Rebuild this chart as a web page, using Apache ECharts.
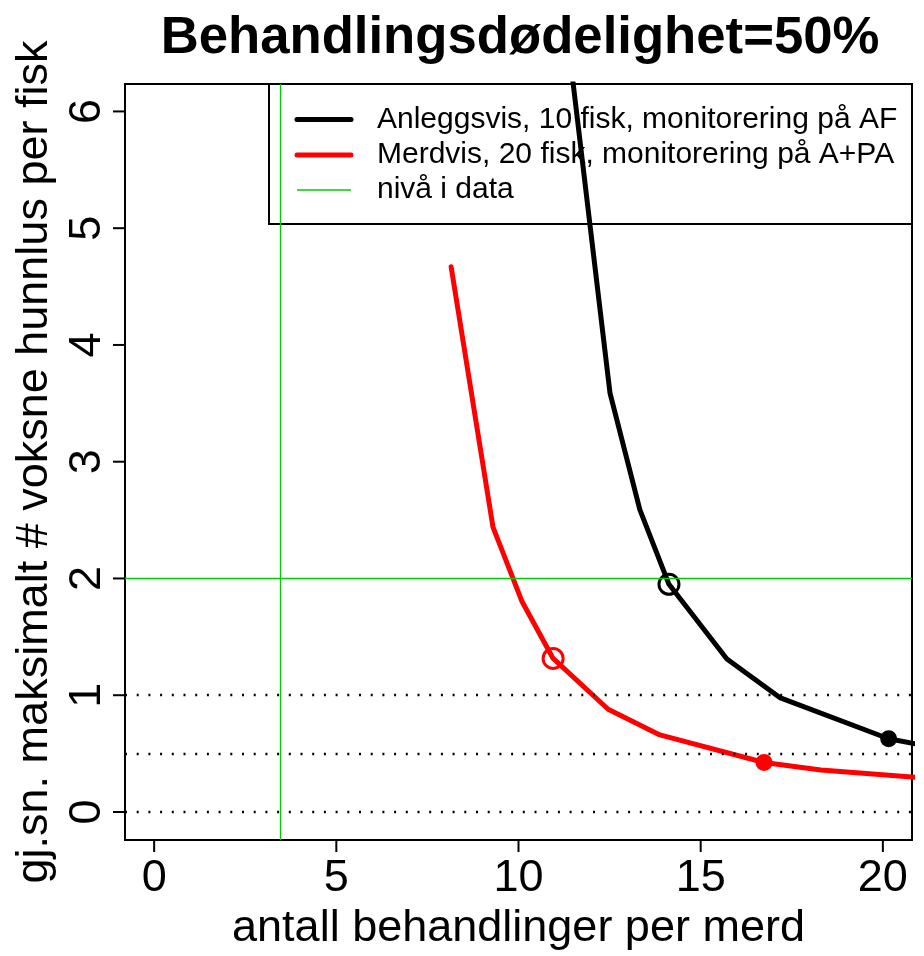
<!DOCTYPE html>
<html>
<head>
<meta charset="utf-8">
<script src="https://cdn.jsdelivr.net/npm/echarts@6/dist/echarts.min.js"></script>
<style>html,body{margin:0;padding:0;background:#fff}#c{width:924px;height:956px;background:#fff}</style>
</head>
<body>
<div id="c"></div>
<script>
// ---- data ----
const xBlack = [11.21, 12.51, 13.33, 14.13, 15.72, 17.17, 20.16, 22.0];
const yBlack = [7.0, 3.59, 2.59, 1.95, 1.31, 0.98, 0.627, 0.52];
const xRed = [8.15, 9.30, 10.10, 10.95, 12.46, 13.88, 16.74, 18.3, 22.0];
const yRed = [4.67, 2.44, 1.80, 1.315, 0.88, 0.66, 0.424, 0.36, 0.27];
const openMarkBlack = [14.13, 1.95];
const openMarkRed = [10.95, 1.315];
const fillMarkBlack = [20.16, 0.627];
const fillMarkRed = [16.74, 0.424];
const levelX = 3.46;
const levelY = 2;
const refLevels = [0, 0.5, 1];
const xTicks = [0, 5, 10, 15, 20];
const yTicks = [0, 1, 2, 3, 4, 5, 6];
const xRange = [-0.8, 20.8];
const yRange = [-0.24, 6.235];
const seriesNames = ['Anleggsvis, 10 fisk, monitorering på AF', 'Merdvis, 20 fisk, monitorering på A+PA', 'nivå i data'];
const titleText = 'Behandlingsdødelighet=50%';
const xName = 'antall behandlinger per merd';
const yName = 'gj.sn. maksimalt # voksne hunnlus per fisk';

const zip = (xs, ys) => xs.map((x, i) => [x, ys[i]]);
const FONT = 'Liberation Sans';
const GREEN = '#00cd00';
const RED = '#ff0000';
const TICK = 12;

// legend drawn as graphic (box without fill, under the series, as in the reference)
const legendColors = ['#000', RED, GREEN];
const legendWidths = [5, 5, 1.3];
const legendRowsY = [119.5, 155, 190];
const legendEls = [{
  type: 'rect', z: 1, silent: true,
  shape: {x: 269, y: 84, width: 643, height: 140},
  style: {fill: 'none', stroke: '#000', lineWidth: 2}
}];
seriesNames.forEach((n, i) => {
  legendEls.push({
    type: 'line', z: 1, silent: true,
    shape: {x1: 297, y1: legendRowsY[i], x2: 351, y2: legendRowsY[i]},
    style: {stroke: legendColors[i], lineWidth: legendWidths[i], lineCap: i < 2 ? 'round' : 'butt'}
  });
  legendEls.push({
    type: 'text', z: 1, silent: true, x: 377, y: legendRowsY[i],
    style: {text: n, fontFamily: FONT, fontSize: 30, fill: '#000', verticalAlign: 'middle', align: 'left'}
  });
});

// tick marks carried by the axis labels themselves (a 2px x 12px block next to each number)
const tickRich = {
  tx: {width: 2, height: TICK, lineHeight: TICK, backgroundColor: '#000', align: 'center'},
  ty: {width: 2, height: TICK, lineHeight: TICK, backgroundColor: '#000', align: 'center'},
  vx: {fontFamily: FONT, fontSize: 45, lineHeight: 45, color: '#000', padding: [8, 0, 0, 0], align: 'center'},
  vy: {fontFamily: FONT, fontSize: 45, lineHeight: 45, color: '#000', padding: [0, 0, 6, 0], align: 'center'}
};

const chart = echarts.init(document.getElementById('c'), null, {renderer: 'canvas'});
chart.setOption({
  animation: false,
  title: {
    text: titleText, left: 515, top: 7, textAlign: 'center',
    textStyle: {fontFamily: FONT, fontSize: 52.7, fontWeight: 'bold', color: '#000'}
  },
  grid: {left: 125, top: 84, right: 12, bottom: 111, show: true, borderColor: '#000', borderWidth: 2},
  graphic: {elements: legendEls},
  xAxis: {
    type: 'value', min: xRange[0], max: xRange[1],
    name: xName, nameLocation: 'middle', nameGap: 66,
    nameTextStyle: {fontFamily: FONT, fontSize: 45, color: '#000'},
    axisLine: {show: true, onZero: false, lineStyle: {color: '#000', width: 2}},
    axisTick: {show: false},
    axisLabel: {
      margin: 0, customValues: xTicks, align: 'center', verticalAlign: 'top',
      formatter: v => '{tx|}\n{vx|' + v + '}', rich: tickRich
    },
    splitLine: {show: false}
  },
  yAxis: {
    type: 'value', min: yRange[0], max: yRange[1],
    name: yName, nameLocation: 'middle', nameGap: 62,
    nameTextStyle: {fontFamily: FONT, fontSize: 45, color: '#000'},
    axisLine: {show: true, onZero: false, lineStyle: {color: '#000', width: 2}},
    axisTick: {show: false},
    axisLabel: {
      margin: 0, rotate: 90, customValues: yTicks,
      formatter: v => '{vy|' + v + '}\n{ty|}', rich: tickRich
    },
    splitLine: {show: false}
  },
  series: [
    {
      name: 'refs', type: 'line', data: [], silent: true, z: 2,
      markLine: {
        silent: true, symbol: 'none', label: {show: false},
        lineStyle: {color: '#000', width: 2.4, type: [2, 9.7]},
        data: refLevels.map(v => ({yAxis: v}))
      }
    },
    {
      name: seriesNames[2], type: 'line', data: [], color: GREEN, z: 2,
      lineStyle: {color: GREEN, width: 1.3}, symbol: 'none',
      markLine: {
        silent: true, symbol: 'none', label: {show: false},
        lineStyle: {color: GREEN, width: 1.3, type: 'solid'},
        data: [{xAxis: levelX}, {yAxis: levelY}]
      }
    },
    {
      name: seriesNames[0], type: 'line', data: zip(xBlack, yBlack), color: '#000',
      symbol: 'none', lineStyle: {color: '#000', width: 5, join: 'round'}, clip: true, z: 3
    },
    {
      name: seriesNames[1], type: 'line', data: zip(xRed, yRed), color: RED,
      symbol: 'none', lineStyle: {color: RED, width: 5, join: 'round', cap: 'round'}, clip: true, z: 3
    },
    {
      name: 'open', type: 'scatter', z: 4, symbol: 'circle', symbolSize: 20,
      data: [
        {value: openMarkBlack, itemStyle: {color: 'rgba(0,0,0,0)', borderColor: '#000', borderWidth: 3, opacity: 1}},
        {value: openMarkRed, itemStyle: {color: 'rgba(0,0,0,0)', borderColor: RED, borderWidth: 3, opacity: 1}}
      ]
    },
    {
      name: 'filled', type: 'scatter', z: 4, symbol: 'circle', symbolSize: 17,
      data: [
        {value: fillMarkBlack, itemStyle: {color: '#000', opacity: 1}},
        {value: fillMarkRed, itemStyle: {color: RED, opacity: 1}}
      ]
    }
  ]
});
</script>
</body>
</html>
